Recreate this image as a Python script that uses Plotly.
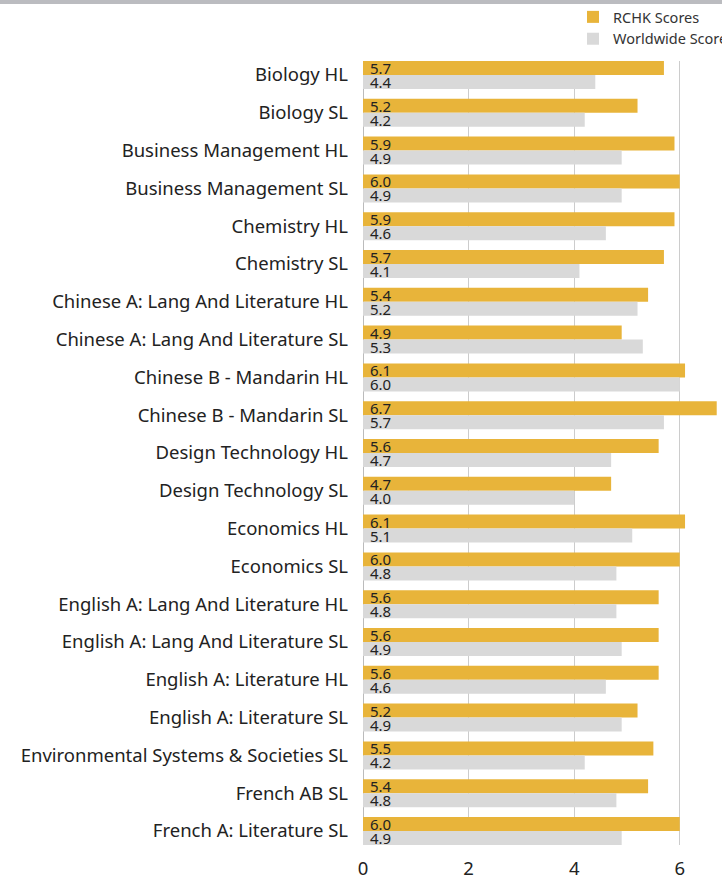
import plotly.graph_objects as go

subjects = [
    "Biology HL", "Biology SL", "Business Management HL", "Business Management SL",
    "Chemistry HL", "Chemistry SL", "Chinese A: Lang And Literature HL",
    "Chinese A: Lang And Literature SL", "Chinese B - Mandarin HL", "Chinese B - Mandarin SL",
    "Design Technology HL", "Design Technology SL", "Economics HL", "Economics SL",
    "English A: Lang And Literature HL", "English A: Lang And Literature SL",
    "English A: Literature HL", "English A: Literature SL",
    "Environmental Systems & Societies SL", "French AB SL", "French A: Literature SL",
]
rchk = [5.7, 5.2, 5.9, 6.0, 5.9, 5.7, 5.4, 4.9, 6.1, 6.7, 5.6, 4.7, 6.1, 6.0, 5.6, 5.6, 5.6, 5.2, 5.5, 5.4, 6.0]
world = [4.4, 4.2, 4.9, 4.9, 4.6, 4.1, 5.2, 5.3, 6.0, 5.7, 4.7, 4.0, 5.1, 4.8, 4.8, 4.9, 4.6, 4.9, 4.2, 4.8, 4.9]
x_ticks = [0, 2, 4, 6]

FONT = "Noto Sans"

fig = go.Figure()
fig.add_trace(go.Bar(
    y=subjects, x=rchk, orientation="h", name="RCHK Scores",
    marker=dict(color="#E8B43A", line=dict(width=0)),
    texttemplate="\u00a0%{x:.1f}", textposition="inside", insidetextanchor="start",
    constraintext="none", textfont=dict(family=FONT, size=15, color="#222222"),
    hoverinfo="x+y",
))
fig.add_trace(go.Bar(
    y=subjects, x=world, orientation="h", name="Worldwide Scores",
    marker=dict(color="#D9D9D9", line=dict(width=0)),
    texttemplate="\u00a0%{x:.1f}", textposition="inside", insidetextanchor="start",
    constraintext="none", textfont=dict(family=FONT, size=15, color="#222222"),
    hoverinfo="x+y",
))

fig.update_layout(
    width=722, height=877,
    margin=dict(l=363, r=0, t=61, b=32, autoexpand=False),
    barmode="group", bargap=0.26, bargroupgap=0,
    plot_bgcolor="white", paper_bgcolor="white",
    font=dict(family=FONT, size=18.5, color="#222222"),
    legend=dict(x=0.585, y=1.0766, xanchor="left", yanchor="top",
                font=dict(family=FONT, size=14.5, color="#333333"),
                bgcolor="rgba(0,0,0,0)", traceorder="normal", tracegroupgap=0),
    showlegend=True,
    shapes=[dict(type="rect", xref="paper", yref="paper", ysizemode="pixel",
                 yanchor=1, y0=57, y1=61, x0=-1.02, x1=1.02,
                 fillcolor="#BBBCC0", line=dict(width=0), layer="above")],
)
fig.update_xaxes(range=[0, 6.8], tickvals=x_ticks, showgrid=True, gridcolor="#CCCCCC",
                 gridwidth=1, zeroline=True, zerolinecolor="#BBBBBB", zerolinewidth=1,
                 ticks="", ticklabelstandoff=10, tickfont=dict(size=18.5, color="#222222"),
                 fixedrange=True)
fig.update_yaxes(autorange=False, range=[20.37, -0.37], showgrid=False,
                 ticks="", ticklabelstandoff=14, tickfont=dict(size=18.5, color="#222222"),
                 fixedrange=True)

fig.write_html(
    "out.html",
    config={"displayModeBar": False},
    post_script="document.body.style.margin='0';document.body.style.overflow='hidden';",
)
